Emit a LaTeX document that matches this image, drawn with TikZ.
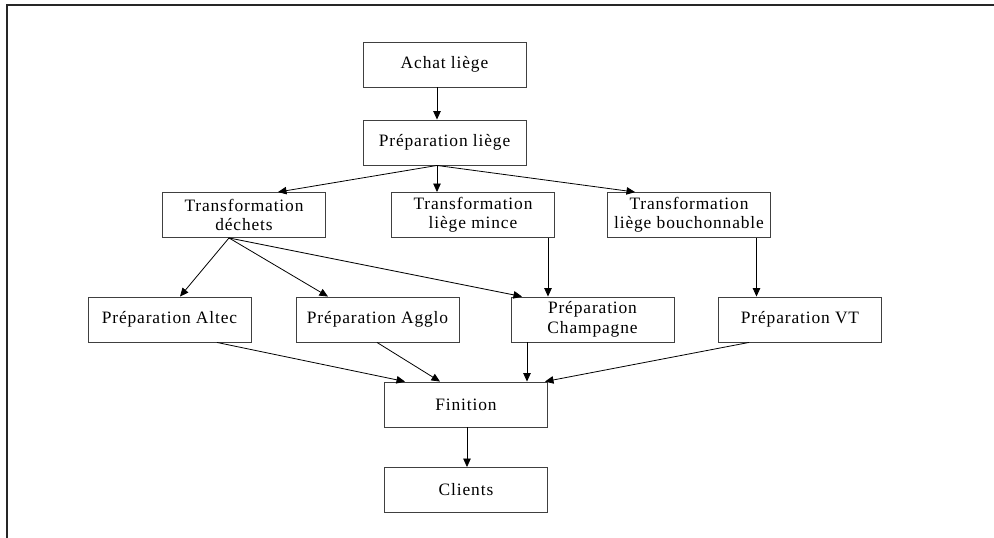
\documentclass[tikz,border=0pt]{standalone}
\usepackage{fontspec}
\setmainfont{Liberation Serif}[LetterSpace=5]
\usetikzlibrary{arrows.meta}
\begin{document}
\begin{tikzpicture}[x=1pt,y=-1pt,
  stepbox/.style={draw=black!75, line width=0.9pt, fill=white,
    minimum width=163pt, minimum height=45pt, inner sep=0pt,
    align=center, font=\fontsize{17.4pt}{19.5pt}\selectfont},
  flow/.style={-{Triangle[length=8.5pt,width=7.5pt]}, line width=0.8pt}]
  \useasboundingbox (0,0) rectangle (994,538);
  % open frame: top and left edges only
  \draw[line width=2pt, black!85] (994,5) -- (7,5) -- (7,538);

  % boxes
  \node[stepbox] (achat)  at (444.5,64.5)  {Achat liège};
  \node[stepbox] (prep)   at (444.5,142.5) {Préparation liège};
  \node[stepbox] (tdech)  at (244,215)     {Transformation\\déchets};
  \node[stepbox] (tmince) at (473,215)     {Transformation\\liège mince};
  \node[stepbox] (tbouch) at (689,215)     {Transformation\\liège bouchonnable};
  \node[stepbox] (altec)  at (169.5,319.5) {Préparation Altec};
  \node[stepbox] (agglo)  at (377.5,319.5) {Préparation Agglo};
  \node[stepbox] (champ)  at (592.5,319.5) {Préparation\\Champagne};
  \node[stepbox] (vt)     at (800,319.5)   {Préparation VT};
  \node[stepbox] (fin)    at (466,404.5)   {Finition};
  \node[stepbox] (cli)    at (466,490)     {Clients};

  % connectors
  \draw[flow] ([xshift=-7.5pt]achat.south) -- ([xshift=-7.5pt]prep.north);
  \draw[flow] ([xshift=-7.5pt]prep.south) -- ([xshift=34pt]tdech.north);
  \draw[flow] ([xshift=-7.5pt]prep.south) -- ([xshift=-36pt]tmince.north);
  \draw[flow] ([xshift=-7.5pt]prep.south) -- ([xshift=-54pt]tbouch.north);

  \draw[flow] ([xshift=-15pt]tdech.south) -- ([xshift=10.5pt]altec.north);
  \draw[flow] ([xshift=-15pt]tdech.south) -- ([xshift=-49.5pt]agglo.north);
  \draw[flow] ([xshift=-15pt]tdech.south) -- ([xshift=-70.5pt]champ.north);
  \draw[flow] ([xshift=75pt]tmince.south) -- ([xshift=-44.5pt]champ.north);
  \draw[flow] ([xshift=67.5pt]tbouch.south) -- ([xshift=-43.5pt]vt.north);

  \draw[flow] ([xshift=47.5pt]altec.south) -- ([xshift=-61pt]fin.north);
  \draw[flow] ([xshift=-0.5pt]agglo.south) -- ([xshift=-26pt]fin.north);
  \draw[flow] ([xshift=-65.5pt]champ.south) -- ([xshift=61pt]fin.north);
  \draw[flow] ([xshift=-51pt]vt.south) -- ([xshift=79pt]fin.north);
  \draw[flow] ([xshift=1pt]fin.south) -- ([xshift=1pt]cli.north);
\end{tikzpicture}
\end{document}
